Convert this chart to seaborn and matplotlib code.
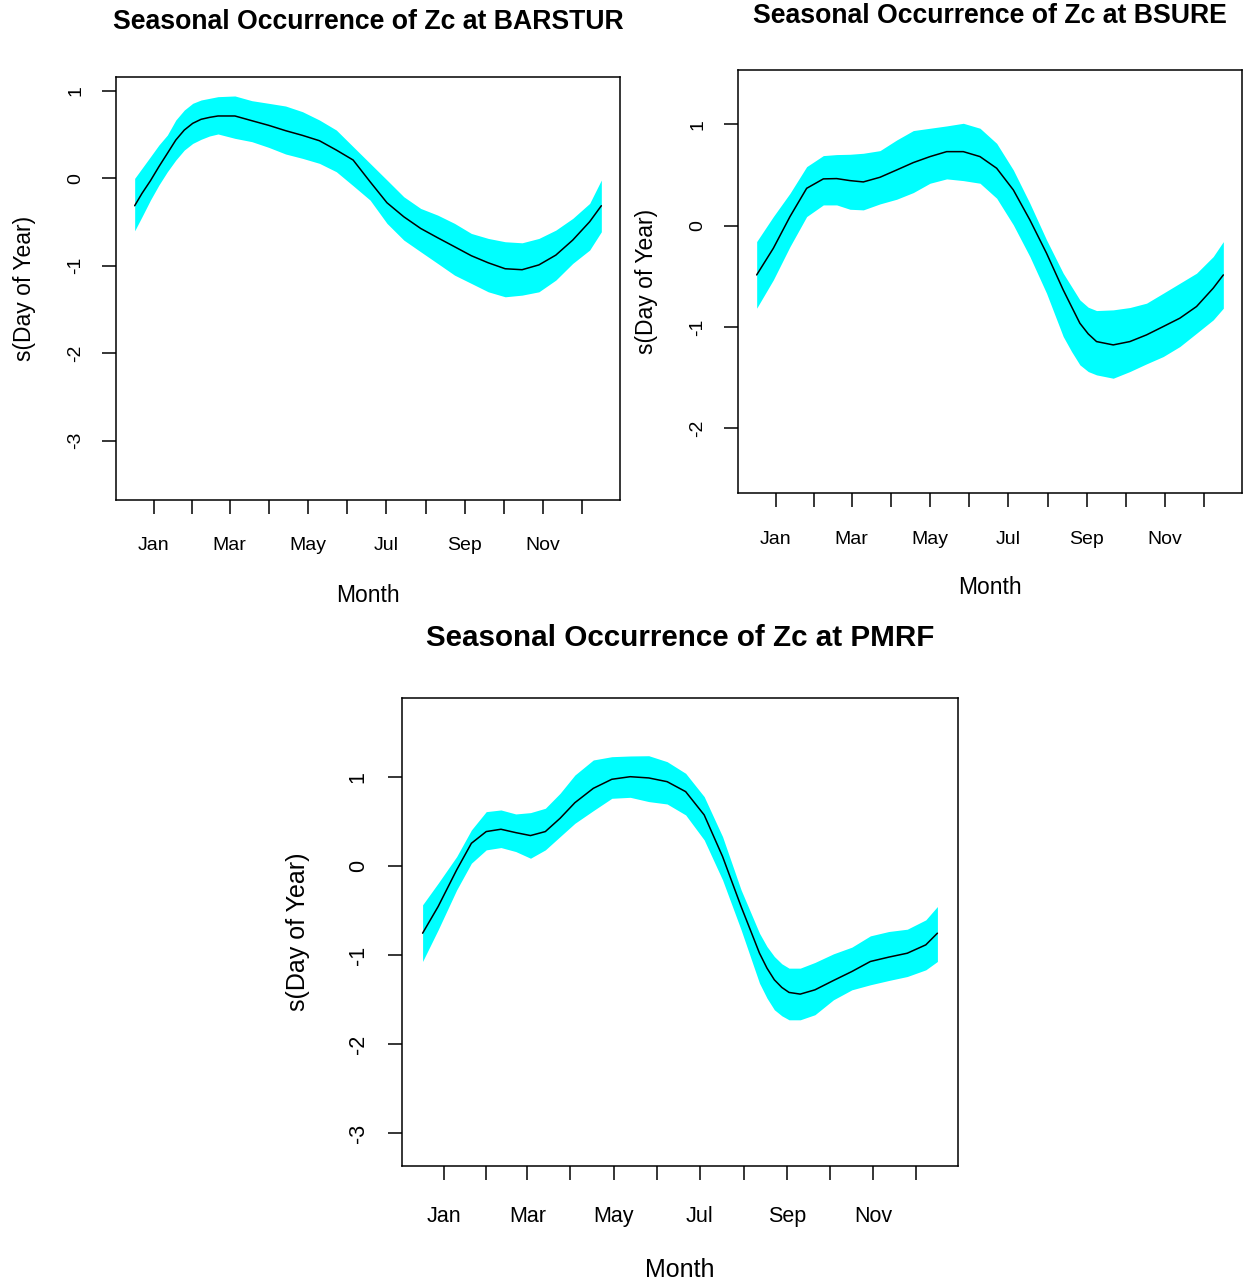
import numpy as np
import pandas as pd
import matplotlib
matplotlib.use("Agg")
import matplotlib.pyplot as plt
import seaborn as sns

# ---------------- data ----------------
month_labels = ["Jan", "", "Mar", "", "May", "", "Jul", "", "Sep", "", "Nov", ""]
month_mid_days = [16, 45.5, 75, 105.5, 136, 166.5, 197, 228, 258.5, 289, 319.5, 350]
ytick_vals = [-3, -2, -1, 0, 1]
ytick_labels = ["-3", "-2", "-1", "0", "1"]

barstur_day = [1, 6.7, 13.3, 19.9, 26.5, 33.1, 39.7, 46.3, 52.8, 59.4, 66.0, 79.2, 92.4,
               105.5, 118.7, 131.9, 145.1, 158.3, 171.4, 184.6, 197.8, 210.9, 224.1,
               237.3, 250.5, 263.6, 276.8, 290.0, 303.2, 316.3, 329.5, 342.7, 355.9, 365]
barstur_fit = [-0.313, -0.172, -0.027, 0.134, 0.286, 0.439, 0.553, 0.630, 0.676, 0.698,
               0.714, 0.714, 0.660, 0.607, 0.546, 0.492, 0.431, 0.324, 0.210, -0.038,
               -0.279, -0.439, -0.573, -0.679, -0.782, -0.885, -0.966, -1.034, -1.045,
               -0.990, -0.878, -0.706, -0.496, -0.313]
barstur_upper = [0.0, 0.115, 0.248, 0.382, 0.496, 0.668, 0.782, 0.859, 0.897, 0.916,
                 0.935, 0.943, 0.889, 0.859, 0.828, 0.763, 0.668, 0.553, 0.363, 0.172,
                 -0.019, -0.210, -0.344, -0.420, -0.515, -0.630, -0.687, -0.725, -0.737,
                 -0.687, -0.592, -0.458, -0.286, -0.019]
barstur_lower = [-0.600, -0.439, -0.248, -0.076, 0.076, 0.210, 0.324, 0.400, 0.447, 0.485,
                 0.508, 0.458, 0.420, 0.355, 0.279, 0.229, 0.172, 0.076, -0.084, -0.248,
                 -0.515, -0.706, -0.840, -0.973, -1.107, -1.202, -1.298, -1.355, -1.336,
                 -1.298, -1.164, -0.973, -0.820, -0.611]

bsure_day = [1, 14.0, 27.0, 40.0, 53.0, 63.4, 73.8, 84.2, 97.2, 110.2, 123.2, 136.2,
             149.2, 162.2, 175.2, 188.2, 201.2, 214.1, 227.1, 240.1, 246.6, 253.1,
             259.6, 266.1, 279.1, 292.1, 305.1, 318.1, 331.1, 344.1, 357.1, 365]
bsure_fit = [-0.487, -0.224, 0.089, 0.368, 0.461, 0.464, 0.444, 0.431, 0.477, 0.549,
             0.622, 0.681, 0.730, 0.730, 0.681, 0.566, 0.352, 0.056, -0.273, -0.635,
             -0.800, -0.964, -1.069, -1.145, -1.178, -1.145, -1.079, -0.997, -0.914,
             -0.799, -0.618, -0.487]
bsure_upper = [-0.158, 0.089, 0.319, 0.582, 0.691, 0.701, 0.704, 0.714, 0.740, 0.845,
               0.938, 0.961, 0.984, 1.010, 0.961, 0.812, 0.549, 0.220, -0.141, -0.470,
               -0.602, -0.734, -0.806, -0.839, -0.832, -0.809, -0.766, -0.668, -0.569,
               -0.470, -0.306, -0.158]
bsure_lower = [-0.816, -0.536, -0.207, 0.089, 0.204, 0.204, 0.161, 0.155, 0.214, 0.260,
               0.326, 0.418, 0.461, 0.444, 0.418, 0.270, 0.007, -0.306, -0.668, -1.095,
               -1.243, -1.375, -1.441, -1.474, -1.507, -1.441, -1.365, -1.293, -1.194,
               -1.063, -0.931, -0.816]

pmrf_day = [1, 12.0, 25.1, 35.5, 46.0, 56.4, 66.9, 77.3, 87.8, 98.2, 108.7, 121.7,
            134.8, 147.8, 160.9, 173.9, 187.0, 200.1, 213.1, 226.2, 232.7, 239.2, 244.5,
            249.7, 255.0, 260.1, 268.0, 278.4, 291.5, 304.5, 317.6, 330.6, 343.7, 356.8,
            365]
pmrf_fit = [-0.753, -0.453, -0.041, 0.258, 0.390, 0.416, 0.378, 0.345, 0.390, 0.539,
            0.715, 0.876, 0.978, 1.007, 0.993, 0.951, 0.839, 0.577, 0.109, -0.453,
            -0.715, -0.978, -1.146, -1.277, -1.363, -1.419, -1.438, -1.390, -1.285,
            -1.184, -1.071, -1.022, -0.978, -0.884, -0.753]
pmrf_upper = [-0.434, -0.191, 0.109, 0.408, 0.614, 0.633, 0.588, 0.603, 0.652, 0.820,
              1.026, 1.195, 1.232, 1.240, 1.243, 1.176, 1.045, 0.783, 0.333, -0.266,
              -0.509, -0.753, -0.903, -1.015, -1.097, -1.146, -1.146, -1.082, -0.985,
              -0.910, -0.783, -0.734, -0.708, -0.603, -0.453]
pmrf_lower = [-1.071, -0.715, -0.266, 0.034, 0.184, 0.210, 0.165, 0.090, 0.184, 0.333,
              0.483, 0.625, 0.764, 0.775, 0.727, 0.700, 0.577, 0.296, -0.154, -0.715,
              -1.015, -1.315, -1.483, -1.614, -1.682, -1.727, -1.727, -1.670, -1.502,
              -1.390, -1.333, -1.285, -1.240, -1.165, -1.071]

titles = ["Seasonal Occurrence of Zc at BARSTUR",
          "Seasonal Occurrence of Zc at BSURE",
          "Seasonal Occurrence of Zc at PMRF"]

# ---------------- style ----------------
sns.set_theme(style="white")
plt.rcParams["font.family"] = ["Liberation Sans", "DejaVu Sans"]

W, H = 1243, 1283
fig = plt.figure(figsize=(W / 100, H / 100), dpi=100)


def frac_rect(left, top, right, bottom):
    return [left / W, 1 - bottom / H, (right - left) / W, (bottom - top) / H]


panels = [
    dict(rect=frac_rect(116, 77, 620, 500), day=barstur_day, fit=barstur_fit,
         up=barstur_upper, lo=barstur_lower, ylim=(-3.68, 1.16), title=titles[0],
         title_y=22, tick_fs=14, lab_fs=16.5, title_fs=19.2, ylab_x=25, xlab_y=595,
         xpad=17, ypad=13),
    dict(rect=frac_rect(738, 70, 1242, 493), day=bsure_day, fit=bsure_fit,
         up=bsure_upper, lo=bsure_lower, ylim=(-2.64, 1.536), title=titles[1],
         title_y=16, tick_fs=14, lab_fs=16.5, title_fs=19.2, ylab_x=647, xlab_y=588,
         xpad=17, ypad=13),
    dict(rect=frac_rect(402, 698, 958, 1166), day=pmrf_day, fit=pmrf_fit,
         up=pmrf_upper, lo=pmrf_lower, ylim=(-3.371, 1.892), title=titles[2],
         title_y=638, tick_fs=15.5, lab_fs=18, title_fs=21.3, ylab_x=298, xlab_y=1270,
         xpad=19, ypad=14),
]

for p in panels:
    ax = fig.add_axes(p["rect"])
    df = pd.DataFrame({"day": p["day"], "fit": p["fit"], "upper": p["up"], "lower": p["lo"]})
    ax.fill_between(df["day"], df["lower"], df["upper"], color="#00FFFF", linewidth=0, zorder=1)
    sns.lineplot(data=df, x="day", y="fit", ax=ax, color="black", linewidth=1.1,
                 sort=False, zorder=2, legend=False)
    ax.set_xticks(month_mid_days)
    ax.set_xticklabels(month_labels, fontsize=p["tick_fs"])
    ax.set_yticks(ytick_vals)
    ax.set_yticklabels(ytick_labels, fontsize=p["tick_fs"], rotation=90, va="center")
    ax.set_xlim(-13.56, 379.56)
    ax.set_ylim(*p["ylim"])
    ax.tick_params(axis="both", direction="out", length=10, width=1.1, color="black",
                   labelcolor="black", bottom=True, left=True)
    ax.tick_params(axis="x", pad=p["xpad"])
    ax.tick_params(axis="y", pad=p["ypad"])
    for s in ax.spines.values():
        s.set_visible(True)
        s.set_color("black")
        s.set_linewidth(1.1)
    ax.grid(False)
    ax.set_facecolor("white")

    bbox = ax.get_position()
    ax.set_xlabel("Month", fontsize=p["lab_fs"], color="black")
    ax.set_ylabel("s(Day of Year)", fontsize=p["lab_fs"], color="black")
    axh = bbox.height * H
    axw = bbox.width * W
    left_px = bbox.x0 * W
    bottom_px = (1 - bbox.y0) * H
    ax.xaxis.set_label_coords(0.5, (bottom_px - p["xlab_y"]) / axh)
    ax.xaxis.label.set_va("center")
    ax.yaxis.set_label_coords((p["ylab_x"] - left_px) / axw, 0.5)
    ax.yaxis.label.set_va("center")

    fig.text(bbox.x0 + bbox.width / 2, 1 - p["title_y"] / H, p["title"],
             fontsize=p["title_fs"], fontweight="bold", ha="center", va="center",
             color="black")

fig.savefig("out.png", dpi=100, facecolor="white")
